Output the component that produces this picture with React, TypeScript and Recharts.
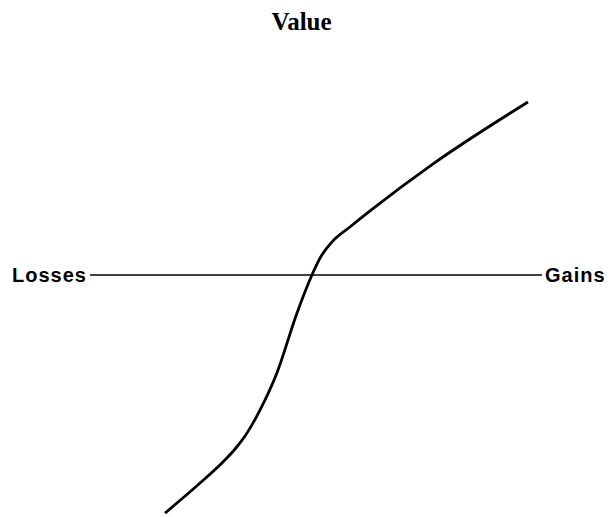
import { LineChart, Line, XAxis, YAxis, ReferenceLine, Label } from 'recharts'

// prospect-theory style value curve
const gainsLosses = [-66.8, -51.3, -40.3, -35.8, -31.4, -24.8, -17.3, -8.4, -1.8, 1.8, 7.5, 15.0, 23.9, 51.8, 93.8]
const value = [-99.2, -86.7, -77.1, -72.5, -67.1, -56.3, -40.8, -15.8, 0, 7.1, 14.2, 20.0, 26.7, 46.3, 72.1]
const axisLabels = ['Losses', 'Gains']
const title = 'Value'

const data = gainsLosses.map((x, i) => ({ x, v: value[i] }))

const labelFont = {
  fontFamily: 'Arial, "Liberation Sans", sans-serif',
  fontWeight: 700,
  fontSize: 20,
  letterSpacing: 1,
  fill: '#000',
}

export default function App() {
  return (
    <div style={{ position: 'absolute', left: 0, top: 0, width: 611, height: 517, background: '#fff' }}>
      <div
        style={{
          position: 'absolute',
          left: 0,
          width: 603,
          top: 10,
          textAlign: 'center',
          fontFamily: '"Times New Roman", "Liberation Serif", serif',
          fontWeight: 700,
          fontSize: 25,
          lineHeight: '24px',
        }}
      >
        {title}
      </div>
      <LineChart width={611} height={517} data={data} margin={{ top: 35, right: 69, bottom: 2, left: 90 }}>
        <XAxis type="number" dataKey="x" domain={[-100, 100]} hide />
        <YAxis type="number" domain={[-100, 100]} hide />
        <ReferenceLine y={0} stroke="#000" strokeWidth={1.5}>
          <Label value={axisLabels[0]} position="left" offset={3} style={labelFont} />
          <Label value={axisLabels[1]} position="right" offset={3} style={labelFont} />
        </ReferenceLine>
        <Line
          type="monotone"
          dataKey="v"
          stroke="#000"
          strokeWidth={2.8}
          dot={false}
          isAnimationActive={false}
        />
      </LineChart>
    </div>
  )
}
